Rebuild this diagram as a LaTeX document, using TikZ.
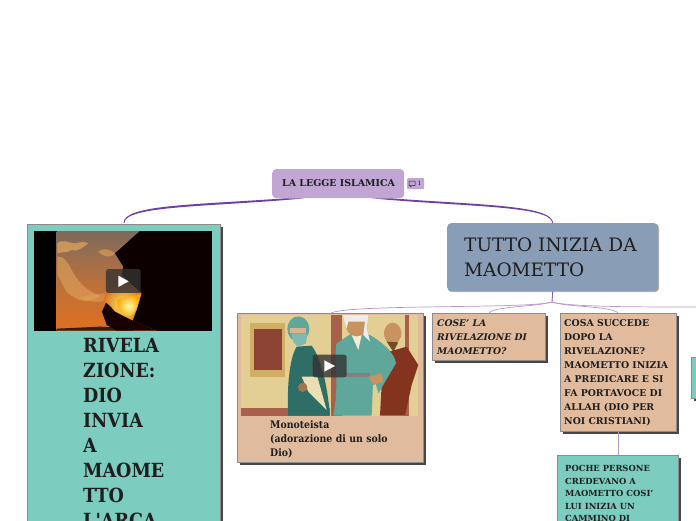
\documentclass[tikz,border=0pt]{standalone}
\usepackage{fontspec}
\setmainfont{DejaVu Serif}
\newfontfamily\condf{DejaVu Serif Condensed}
\usetikzlibrary{shadows,calc}
\definecolor{rootc}{HTML}{C1A6D4}
\definecolor{mainc}{HTML}{8A9DB7}
\definecolor{tealc}{HTML}{7CCDC0}
\definecolor{beige}{HTML}{E0BB9E}
\definecolor{edgeg}{HTML}{8C8C8C}
\definecolor{dk}{HTML}{1E1E1E}
\definecolor{lnA}{HTML}{6F3FA3}
\definecolor{lnB}{HTML}{B598CF}
\definecolor{wall}{HTML}{E3CF93}
\definecolor{frameg}{HTML}{D0AE66}
\definecolor{brick}{HTML}{8C4334}
\definecolor{door}{HTML}{A9604A}
\definecolor{robeg}{HTML}{5FA79B}
\definecolor{robed}{HTML}{2F6E66}
\definecolor{robeb}{HTML}{84331F}
\definecolor{skin}{HTML}{C9935F}
\definecolor{skyt}{HTML}{7D6A5C}
\definecolor{skym}{HTML}{B9713D}
\definecolor{skyb}{HTML}{E0701F}
\definecolor{cloud}{HTML}{E0A45C}
\tikzset{
  x=1pt,y=-1pt,
  boxbase/.style={anchor=north west,inner sep=0,draw=edgeg,line width=.9pt,
     drop shadow={shadow xshift=2.4pt,shadow yshift=-2.4pt,opacity=.9,fill=black!80}},
  tealbox/.style={boxbase,fill=tealc},
  beigebox/.style={boxbase,fill=beige},
  txt/.style={anchor=north west,inner sep=0,align=left,text=dk,font=\bfseries},
  thinline/.style={draw=lnB,line width=.7pt},
  playbg/.style={fill=black!80,fill opacity=.8,rounded corners=2.5pt},
}
\begin{document}
\begin{tikzpicture}
\useasboundingbox (0,0) rectangle (696,520);
\clip (0,0) rectangle (696,520);
\fill[white] (0,0) rectangle (696,520);

% nodes
\node[anchor=north west,fill=rootc,rounded corners=4pt,minimum width=132pt,minimum height=29pt,inner sep=0] (root) at (272,169) {};
\node[anchor=north west,fill=mainc,rounded corners=4pt,minimum width=211pt,minimum height=68pt,inner sep=0,
  drop shadow={shadow xshift=.8pt,shadow yshift=-1pt,opacity=.3,fill=black}] (main) at (447,223) {};
\node[tealbox,minimum width=193pt,minimum height=340pt] (left) at (27,224) {};
\node[beigebox,minimum width=186pt,minimum height=149pt] (mono) at (237,313) {};
\node[beigebox,minimum width=113pt,minimum height=47pt] (cose) at (432,313) {};
\node[beigebox,minimum width=116pt,minimum height=118pt] (cosa) at (560,313) {};
\node[tealbox,minimum width=121pt,minimum height=100pt] (poche) at (557,455) {};
\node[tealbox,minimum width=40pt,minimum height=41pt] (rightb) at (691,357) {};
\coordinate (fork) at (552,302);
\coordinate (offr) at (696,307);

% thick tapered connectors from root
\fill[lnA] ($(root.south)+(-54,0)$) .. controls (190,205) and (123.6,205) .. ($(left.north west)+(96.6,-1)$)
  -- ($(left.north west)+(97.4,-1)$) .. controls (124.4,205.5) and (210,207) .. ($(root.south)+(-34,0)$) -- cycle;
\fill[lnA] ($(root.south)+(54,0)$) .. controls (480,205) and (552.4,205) .. ($(main.north)+(.4,0)$)
  -- ($(main.north)+(-.4,0)$) .. controls (551.6,205.5) and (465,207) .. ($(root.south)+(34,0)$) -- cycle;

% thin connectors
\draw[lnA!70!lnB,line width=.9pt] (main.south) -- (fork);
\draw[thinline] (fork) .. controls (530,309) and (350,304) .. ($(mono.north west)+(94,0)$);
\draw[thinline] (fork) .. controls (535,307) and (495,306) .. ($(cose.north west)+(57,0)$);
\draw[thinline] (fork) .. controls (565,307) and (612,306) .. ($(cosa.north west)+(58,0)$);
\draw[thinline] (fork) .. controls (570,307) and (640,307) .. (offr);
\draw[lnB,line width=.9pt] (cosa.south -| 618,431) -- (618,455);

% root text and badge
\node[txt,font=\bfseries\fontsize{9.45}{11}\selectfont,anchor=west] (t0) at (282,183.5) {LA LEGGE ISLAMICA};
\node[anchor=north west,fill=rootc,minimum width=17pt,minimum height=11pt,inner sep=0,rounded corners=1pt] (badge) at (407,178) {};
\draw[dk,line width=.5pt,line join=round] (409,181) -- (415,181) -- (415,185.5) -- (412,185.5) -- (410.5,187) -- (410.5,185.5) -- (409,185.5) -- cycle;
\node[anchor=center,inner sep=0,text=dk,font=\fontsize{6}{7}\selectfont] (badget) at (419.5,183.5) {1};

% main text
\node[txt,font=\fontsize{18.5}{25}\selectfont,anchor=north west] (t1) at (464,238) {TUTTO INIZIA DA\\MAOMETTO};

% left picture
\begin{scope}[shift={(0,210)},x=.3333pt,y=-.3333pt]
  \fill[black] (103,63) rectangle (636,362);
  \begin{scope}
    \clip (170,63) rectangle (636,362);
    \shade[top color=skyt,bottom color=skyb,middle color=skym] (170,63) rectangle (470,362);
    \fill[cloud,opacity=.75] (172,100) .. controls (190,85) and (205,100) .. (225,100) .. controls (245,95) and (255,95) .. (265,100) .. controls (245,115) and (235,125) .. (215,120) .. controls (200,130) and (185,125) .. (172,130) -- cycle;
    \fill[cloud,opacity=.6] (172,140) .. controls (190,135) and (205,160) .. (215,180) .. controls (240,225) and (260,240) .. (300,258) .. controls (260,285) and (230,270) .. (205,250) .. controls (190,235) and (180,205) .. (172,195) -- cycle;
    \fill[cloud,opacity=.6] (295,125) .. controls (310,112) and (330,118) .. (345,130) .. controls (335,145) and (310,142) .. (295,125) -- cycle;
    \fill[cloud,opacity=.5] (240,265) .. controls (280,250) and (320,250) .. (350,250) .. controls (340,275) and (290,285) .. (240,265) -- cycle;
    \shade[inner color=yellow!60!white,outer color=skyb,opacity=.9] (370,285) circle (62);
    \fill[black!75!brown] (170,362) -- (170,356) -- (300,350) -- (400,355) -- (400,362) -- cycle;
    \fill[black!95!red] (420,63) -- (395,85) -- (345,130) -- (370,170) -- (365,195) -- (425,250) -- (412,295) -- (398,332) -- (470,362) -- (636,362) -- (636,63) -- cycle;
    \fill[black!90!red] (398,332) -- (370,318) -- (345,305) -- (330,288) -- (318,278) -- (306,305) -- (320,345) -- (350,362) -- (470,362) -- cycle;
    \shade[inner color=yellow!35!white,outer color=orange!70!yellow,opacity=.95] (352,270) .. controls (385,255) and (410,260) .. (422,252) .. controls (412,295) and (398,325) .. (380,318) .. controls (362,312) and (350,295) .. (352,270) -- cycle;
  \end{scope}
  \fill[playbg] (318,177) rectangle (422,249);
  \fill[white] (355,197) -- (386,214) -- (355,231) -- cycle;
\end{scope}
\node[txt,font=\condf\bfseries\fontsize{19.5}{25}\selectfont] (t2) at (83,338) {RIVELA\\ZIONE:\\DIO\\INVIA\\A\\MAOME\\TTO\\L'ARCA};

% mono picture
\begin{scope}[shift={(230,305)},x=.3333pt,y=-.3333pt]
  \fill[wall] (33,30) rectangle (565,332);
  \fill[door] (33,308) rectangle (300,332);
  \fill[frameg] (60,55) rectangle (165,215);
  \fill[brick] (72,72) rectangle (155,195);
  \fill[door] (303,30) rectangle (537,332);
  \fill[wall] (335,30) rectangle (525,332);
  % woman
  \fill[robed] (175,332) .. controls (170,250) and (178,160) .. (200,125) -- (245,122) .. controls (280,170) and (295,270) .. (300,332) -- cycle;
  \fill[wall!70!white] (215,215) -- (262,215) -- (290,315) -- (235,260) -- cycle;
  \fill[skin!80!black] (218,247) circle (14);
  \fill[robeg] (205,72) ellipse (33 and 38);
  \fill[skin!70!white] (180,70) rectangle (228,85);
  \fill[robeg!80!white] (185,85) -- (232,85) -- (228,115) -- (205,125) -- (190,112) -- cycle;
  % bearded man
  \fill[robeb] (450,332) -- (460,145) -- (530,125) -- (565,180) -- (545,240) -- (525,332) -- cycle;
  \fill[skin] (488,85) ellipse (26 and 32);
  \fill[brown!60!black] (470,110) -- (505,112) -- (490,140) -- cycle;
  % central man
  \fill[robeg] (310,332) .. controls (330,230) and (310,150) .. (320,115) -- (365,85) -- (420,90) .. controls (470,120) and (495,150) .. (498,175) -- (445,265) -- (430,210) -- (425,332) -- cycle;
  \fill[wall!40!white] (365,90) -- (395,90) -- (385,135) -- cycle;
  \fill[gray] (345,205) rectangle (420,217);
  \fill[skin] (380,62) ellipse (32 and 32);
  \fill[white!85!gray] (338,30) -- (415,30) -- (410,70) -- (420,110) -- (400,90) -- (405,50) -- (355,50) -- (350,70) -- cycle;
  \fill[skin] (415,215) -- (455,205) -- (460,230) -- (430,240) -- cycle;
  \fill[playbg] (248,149) rectangle (350,217);
  \fill[white] (283,166) -- (315,183) -- (283,200) -- cycle;
\end{scope}
\node[txt,font=\condf\bfseries\fontsize{10.4}{14}\selectfont,text width=135pt] (t3) at (270,420.5) {Monoteista\\(adorazione di un solo\\Dio)};

% box texts
\node[txt,font=\bfseries\itshape\fontsize{9.2}{14}\selectfont] (t4) at (437,319.5) {COSE' LA\\RIVELAZIONE DI\\MAOMETTO?};
\node[txt,font=\bfseries\fontsize{9.35}{14}\selectfont] (t5) at (564,319.5) {COSA SUCCEDE\\DOPO LA\\RIVELAZIONE?\\MAOMETTO INIZIA\\A PREDICARE E SI\\FA PORTAVOCE DI\\ALLAH (DIO PER\\NOI CRISTIANI)};
\node[txt,font=\bfseries\fontsize{8.4}{12.5}\selectfont] (t6) at (565,465.5) {POCHE PERSONE\\CREDEVANO A\\MAOMETTO COSI'\\LUI INIZIA UN\\CAMMINO DI};
\end{tikzpicture}
\end{document}
